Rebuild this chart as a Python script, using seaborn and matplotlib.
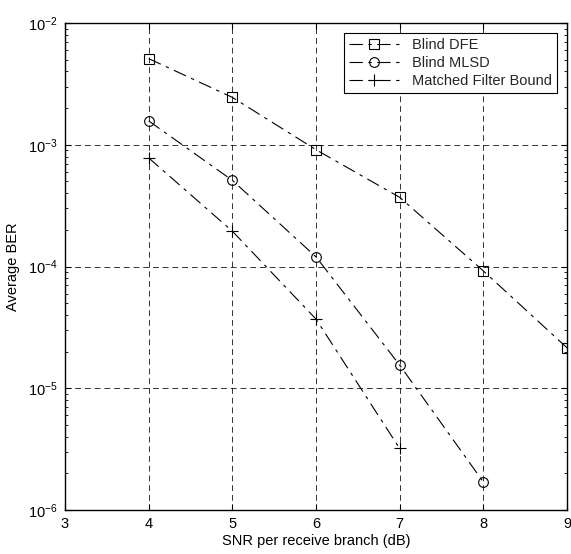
import matplotlib
matplotlib.use("Agg")
import matplotlib.pyplot as plt
import seaborn as sns
import pandas as pd
from matplotlib.ticker import LogLocator, NullFormatter, FixedLocator

sns.set_theme(style="white")
plt.rcParams['font.family'] = ['Liberation Sans', 'DejaVu Sans']
plt.rcParams['mathtext.fontset'] = 'custom'
plt.rcParams['mathtext.rm'] = 'Liberation Sans'
plt.rcParams['mathtext.it'] = 'Liberation Sans'

dfe_x = [4, 5, 6, 7, 8, 9]
dfe_y = [5.1e-3, 2.45e-3, 9.1e-4, 3.7e-4, 9.2e-5, 2.15e-5]
mlsd_x = [4, 5, 6, 7, 8]
mlsd_y = [1.57e-3, 5.1e-4, 1.2e-4, 1.55e-5, 1.7e-6]
mfb_x = [4, 5, 6, 7]
mfb_y = [7.8e-4, 1.95e-4, 3.7e-5, 3.2e-6]
labels = ["Blind DFE", "Blind MLSD", "Matched Filter Bound"]
markers = ["s", "o", "+"]

fig = plt.figure(figsize=(5.71, 5.54), dpi=100)
ax = fig.add_axes([65/571, 44/554, 502/571, 487/554])

series = [(dfe_x, dfe_y), (mlsd_x, mlsd_y), (mfb_x, mfb_y)]
for (xs, ys), lab, mk in zip(series, labels, markers):
    df = pd.DataFrame({"x": xs, "y": ys})
    sns.lineplot(data=df, x="x", y="y", ax=ax, color="black", lw=0.8,
                 marker=mk, markersize=7 if mk != "+" else 9,
                 markerfacecolor="none", markeredgecolor="black",
                 markeredgewidth=0.8, label=lab, linestyle=(0, (12, 5, 3, 5)))

ax.set_yscale("log")
ax.set_xlim(3, 9)
ax.set_ylim(1e-6, 1e-2)
ax.xaxis.set_major_locator(FixedLocator([3, 4, 5, 6, 7, 8, 9]))
ax.yaxis.set_major_locator(LogLocator(base=10, numticks=10))
ax.yaxis.set_minor_locator(LogLocator(base=10, subs=range(2, 10), numticks=20))
ax.yaxis.set_minor_formatter(NullFormatter())

ax.grid(True, which="major", color="black", linestyle=(0, (6, 4)), lw=0.7, alpha=0.8)
ax.grid(False, which="minor")
for s in ax.spines.values():
    s.set_color("black")
    s.set_linewidth(1.0)

ax.tick_params(axis="both", which="both", direction="in", top=True, right=True,
               left=True, bottom=True, colors="black", labelsize=10.5)
ax.tick_params(which="major", length=4, width=0.8)
ax.tick_params(which="minor", length=2.5, width=0.6)
ax.tick_params(axis="x", pad=5)
ax.tick_params(axis="y", pad=5)

ax.set_xlabel("SNR per receive branch (dB)", fontsize=10.5, color="black", labelpad=2)
ax.set_ylabel("Average BER", fontsize=10.5, color="black", labelpad=6)

leg = ax.legend(loc="upper right", fontsize=10.5, frameon=True, fancybox=False,
                edgecolor="black", framealpha=1, borderaxespad=0.7,
                handlelength=3.5, labelspacing=0.25, borderpad=0.35)
leg.get_frame().set_linewidth(0.8)

fig.savefig("out.png", dpi=100, facecolor="white")
